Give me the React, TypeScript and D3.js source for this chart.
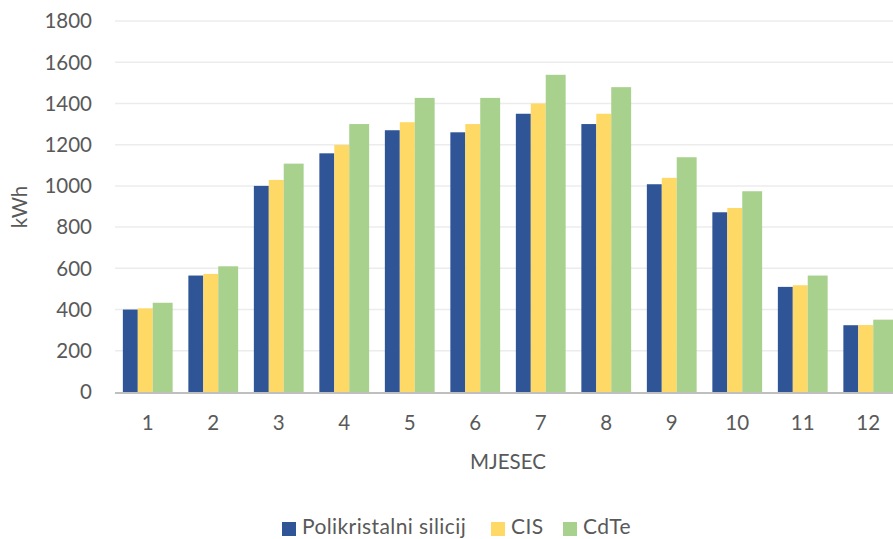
import React from "react";
import * as d3 from "d3";

const months = ["1", "2", "3", "4", "5", "6", "7", "8", "9", "10", "11", "12"];
const poli = [400, 565, 1000, 1158, 1270, 1260, 1350, 1300, 1008, 872, 510, 324];
const cis = [406, 573, 1029, 1199, 1309, 1300, 1400, 1350, 1039, 893, 518, 325];
const cdte = [433, 610, 1108, 1300, 1427, 1427, 1539, 1479, 1139, 974, 565, 351];
const seriesNames = ["Polikristalni silicij", "CIS", "CdTe"];
const colors = ["#2f5597", "#ffd966", "#a9d18e"];
const yTicks = [0, 200, 400, 600, 800, 1000, 1200, 1400, 1600, 1800];

const W = 893, H = 539;
const left = 115, plotW = 786, top = 21, bottom = 392;
const font = "Lato, 'Open Sans', sans-serif";

export default function App() {
  const x = d3.scaleBand().domain(months).range([left, left + plotW]).paddingInner(0.24).paddingOuter(0.12);
  const y = d3.scaleLinear().domain([0, 1800]).range([bottom, top]);
  const all = [poli, cis, cdte];
  const bw = x.bandwidth();
  // blue and yellow bars are a bit narrower than green in the reference
  const widths = [0.3, 0.3, 0.4];

  return (
    <svg width={W} height={H} style={{ position: "absolute", left: 0, top: 0, background: "#fff" }}>
      {yTicks.map(t => (
        <g key={t}>
          {t > 0 && <line x1={left} x2={W} y1={y(t)} y2={y(t)} stroke="#ececec" strokeWidth={1.5} />}
          <text x={92} y={y(t)} dy="0.36em" textAnchor="end" fontSize={20.5} fill="#595959" fontFamily={font}>{t}</text>
        </g>
      ))}
      {all.map((vals, si) => (
        <g key={si}>
          {vals.map((v, i) => {
            const off = d3.sum(widths.slice(0, si)) * bw;
            const x0 = (x(months[i]) as number) + off;
            return <rect key={i} x={x0} y={y(v)} width={widths[si] * bw} height={bottom - y(v)} fill={colors[si]} />;
          })}
        </g>
      ))}
      <line x1={left} x2={W} y1={bottom + 1} y2={bottom + 1} stroke="#bfbfbf" strokeWidth={2} />
      {months.map(m => (
        <text key={m} x={(x(m) as number) + bw / 2} y={423} dy="0.36em" textAnchor="middle" fontSize={20.5} fill="#595959" fontFamily={font}>{m}</text>
      ))}
      <text x={508} y={462} dy="0.36em" textAnchor="middle" fontSize={20.5} fill="#595959" fontFamily={font}>MJESEC</text>
      <text transform="translate(20,207) rotate(-90)" dy="0.36em" textAnchor="middle" fontSize={20.5} fill="#595959" fontFamily={font}>kWh</text>
      {(() => {
        const pos = [282, 491, 563];
        return seriesNames.map((n, i) => (
          <g key={n}>
            <rect x={pos[i]} y={522} width={14} height={14} fill={colors[i]} />
            <text x={pos[i] + 20} y={534} fontSize={21} letterSpacing={0.4} fill="#595959" fontFamily={font}>{n}</text>
          </g>
        ));
      })()}
    </svg>
  );
}
